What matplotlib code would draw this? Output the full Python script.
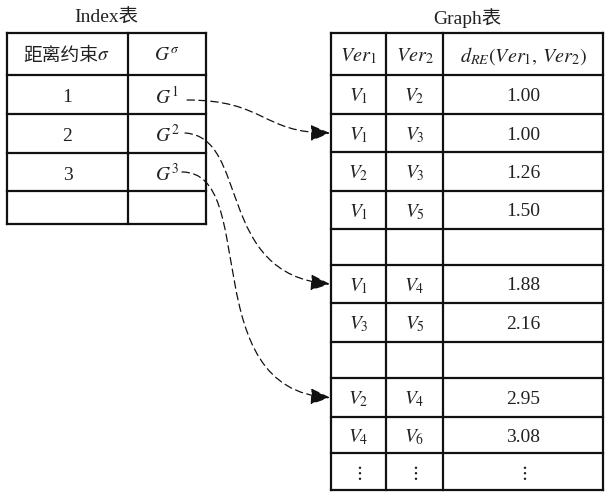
import matplotlib
matplotlib.use("Agg")
import matplotlib.pyplot as plt
from matplotlib.path import Path
from matplotlib.patches import FancyArrowPatch

plt.rcParams['font.family'] = ['Liberation Serif', 'Noto Sans CJK SC', 'DejaVu Sans']
plt.rcParams['mathtext.fontset'] = 'stix'

# ---- data ----
index_title = "Index表"
graph_title = "Graph表"
index_header_cn = "距离约束"
index_header_sym = "$\\sigma$"
index_header_g = "$G^{\\sigma}$"
index_sigma = ["1", "2", "3", ""]
index_graph = ["$G^{1}$", "$G^{2}$", "$G^{3}$", ""]
graph_header = ["$Ver_{1}$", "$Ver_{2}$", "$d_{RE}(Ver_{1},\\,Ver_{2})$"]
ver1 = ["$V_{1}$", "$V_{1}$", "$V_{2}$", "$V_{1}$", "", "$V_{1}$", "$V_{3}$", "", "$V_{2}$", "$V_{4}$", "$\\vdots$"]
ver2 = ["$V_{2}$", "$V_{3}$", "$V_{3}$", "$V_{5}$", "", "$V_{4}$", "$V_{5}$", "", "$V_{4}$", "$V_{6}$", "$\\vdots$"]
dist = ["1.00", "1.00", "1.26", "1.50", "", "1.88", "2.16", "", "2.95", "3.08", "$\\vdots$"]
# index row (sigma) -> graph row it points to
arrow_src = [0, 1, 2]
arrow_dst = [1, 5, 8]

# ---- layout (pixels) ----
W, H = 605, 492
fig = plt.figure(figsize=(W / 100, H / 100), dpi=100)
ax = fig.add_axes([0, 0, 1, 1])
ax.set_xlim(0, W)
ax.set_ylim(H, 0)
ax.axis('off')

L_x = [7, 128, 206]
L_y = [33, 75, 114, 153, 191, 224]
R_x = [331, 386, 443, 603]
R_y = [33, 75, 114, 152, 191, 229, 265, 303, 342, 378, 417, 453, 490]
LW = 1.6
FS = 14
HFS = 14.5
COL = '#222222'
DY = 2


def grid(xs, ys):
    for x in xs:
        ax.plot([x, x], [ys[0], ys[-1]], color='#111111', lw=LW, solid_capstyle='projecting')
    for y in ys:
        ax.plot([xs[0], xs[-1]], [y, y], color='#111111', lw=LW, solid_capstyle='projecting')


grid(L_x, L_y)
grid(R_x, R_y)

ax.text((L_x[0] + L_x[-1]) / 2, 18, index_title, ha='center', va='center', fontsize=FS, color=COL)
ax.text((R_x[0] + R_x[-1]) / 2, 18, graph_title, ha='center', va='center', fontsize=FS, color=COL)


def cx(xs, i):
    return (xs[i] + xs[i + 1]) / 2


def cy(ys, i):
    return (ys[i] + ys[i + 1]) / 2 + DY


# index table text
ax.text(23, cy(L_y, 0) - 1, index_header_cn, ha='left', va='center', fontsize=13.5, color=COL,
        family=['Noto Sans CJK SC'])
ax.text(97, cy(L_y, 0), index_header_sym, ha='left', va='center', fontsize=FS, color=COL)
ax.text(cx(L_x, 1), cy(L_y, 0), index_header_g, ha='center', va='center', fontsize=FS, color=COL)
for i, (s, g) in enumerate(zip(index_sigma, index_graph)):
    ax.text(cx(L_x, 0), cy(L_y, i + 1) + 1, s, ha='center', va='center', fontsize=FS, color=COL)
    ax.text(cx(L_x, 1), cy(L_y, i + 1), g, ha='center', va='center', fontsize=FS, color=COL)

# graph table text
for j, t in enumerate(graph_header):
    ax.text(cx(R_x, j), cy(R_y, 0), t, ha='center', va='center', fontsize=HFS, color=COL)
for i, (a, b, d) in enumerate(zip(ver1, ver2, dist)):
    for j, t in enumerate([a, b, d]):
        ax.text(cx(R_x, j), cy(R_y, i + 1), t, ha='center', va='center', fontsize=FS, color=COL)

# arrows
ctrl = [
    [(187, 100), (265, 100), (262, 133), (330, 133)],
    [(185, 133), (250, 137), (215, 275), (330, 284)],
    [(182, 172), (260, 172), (195, 390), (330, 399)],
]
for k, (s, d) in enumerate(zip(arrow_src, arrow_dst)):
    p0, c1, c2, p3 = ctrl[k]
    p3 = (R_x[0] - 1, (R_y[d + 1] + R_y[d + 2]) / 2)
    path = Path([p0, c1, c2, p3], [Path.MOVETO, Path.CURVE4, Path.CURVE4, Path.CURVE4])
    arr = FancyArrowPatch(path=path, arrowstyle='-|>,head_length=12,head_width=5',
                          color='#111111', lw=0.9, linestyle=(0, (6, 3.5)),
                          mutation_scale=1, shrinkA=0, shrinkB=0)
    ax.add_patch(arr)

fig.savefig("out.png", dpi=100, facecolor='white')
